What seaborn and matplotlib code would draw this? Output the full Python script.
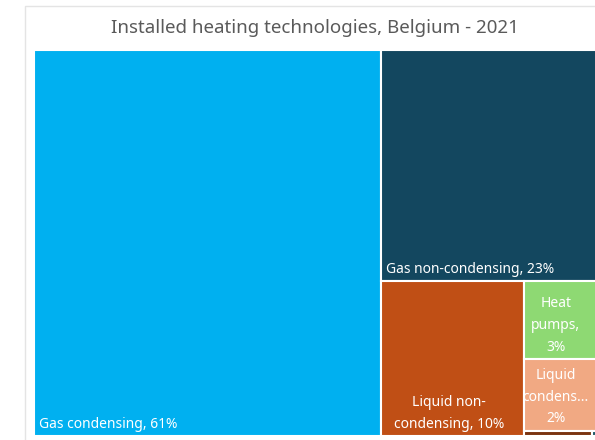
import matplotlib
matplotlib.use("Agg")
import matplotlib.pyplot as plt
from matplotlib.lines import Line2D
import seaborn as sns

# Installed heating technologies in Belgium, 2021 (share of installations, %)
categories = [
    "Gas condensing",
    "Gas non-condensing",
    "Liquid non-condensing",
    "Heat pumps",
    "Liquid condensing",
    "Wood",
    "Other",
]
shares = [61.0, 23.0, 10.0, 2.7, 2.49, 0.17, 0.02]
label_templates = [
    "Gas condensing, {}",
    "Gas non-condensing, {}",
    "Liquid non-\ncondensing, {}",
    "Heat\npumps,\n{}",
    "Liquid\ncondens...\n{}",
    "",
    "",
]
tile_colors = ["#00B0F0", "#13475F", "#C04F15", "#8ED973", "#F1A983", "#7A3410", "#1E5B6B"]
title = "Installed heating technologies, Belgium - 2021"


def worst_ratio(row, side):
    s = sum(row)
    return max(max(side * side * r / (s * s), (s * s) / (side * side * r)) for r in row)


def squarify(areas, x, y, w, h):
    """Squarified treemap layout; returns (x, y, w, h) per area, y growing downward."""
    rects = []
    areas = list(areas)
    while areas:
        side = min(w, h)
        row = [areas[0]]
        i = 1
        while i < len(areas) and worst_ratio(row + [areas[i]], side) <= worst_ratio(row, side):
            row.append(areas[i])
            i += 1
        s = sum(row)
        if w >= h:
            cw = s / h
            yy = y
            for a in row:
                rh = a / cw
                rects.append((x, yy, cw, rh))
                yy += rh
            x += cw
            w -= cw
        else:
            rh = s / w
            xx = x
            for a in row:
                rw = a / rh
                rects.append((xx, y, rw, rh))
                xx += rw
            y += rh
            h -= rh
        areas = areas[i:]
    return rects


sns.set_theme(style="white")
plt.rcParams["font.family"] = ["Noto Sans", "DejaVu Sans"]

FIG_W, FIG_H = 595, 440
fig = plt.figure(figsize=(FIG_W / 100, FIG_H / 100), dpi=100)
fig.patch.set_facecolor("white")

# card frame around the visual: only its left and top edges are in view
frame_x, frame_y = 24.5 / FIG_W, 1 - 6.5 / FIG_H
fig.add_artist(Line2D([frame_x, frame_x, 1.0], [0.0, frame_y, frame_y],
                      transform=fig.transFigure, color="#e4e4e4", linewidth=1.0))

# treemap plotting area (in pixel units); the map runs past the right edge
left_px, top_px = 34, 50
map_w, map_h = 566, 386
vis_w = FIG_W - left_px
ax = fig.add_axes([left_px / FIG_W, (FIG_H - top_px - map_h) / FIG_H,
                   vis_w / FIG_W, map_h / FIG_H])
ax.set_xlim(0, vis_w)
ax.set_ylim(map_h, 0)
ax.axis("off")

total = sum(shares)
areas = [v / total * map_w * map_h for v in shares]
rects = squarify(areas, 0, 0, map_w, map_h)

ax.bar(
    x=[r[0] for r in rects],
    height=[r[3] for r in rects],
    width=[r[2] for r in rects],
    bottom=[r[1] for r in rects],
    align="edge",
    color=tile_colors,
    edgecolor="white",
    linewidth=1.5,
)

for (x, y, w, h), v, tpl in zip(rects, shares, label_templates):
    if not tpl:
        continue
    text = tpl.format(f"{v:.0f}%")
    if "\n" not in text:
        ax.annotate(text, xy=(x, y + h), xytext=(3.5, 6), textcoords="offset points",
                    ha="left", va="baseline", color="white", fontsize=10)
    else:
        x_right = min(x + w, vis_w)
        ax.annotate(text, xy=((x + x_right) / 2, y + h), xytext=(-2.5, 6),
                    textcoords="offset points", ha="center", va="baseline",
                    multialignment="center", linespacing=1.6,
                    color="white", fontsize=10)

fig.text((24 + 606) / 2 / FIG_W, 1 - 28 / FIG_H, title, ha="center", va="center",
         fontsize=13.5, color="#5a5a5a")

fig.savefig("out.png", dpi=100)
